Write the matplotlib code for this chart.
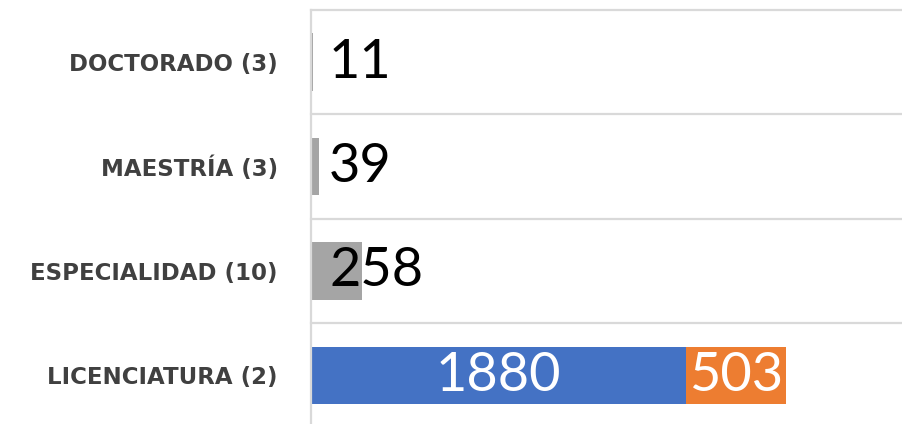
import matplotlib
matplotlib.use("Agg")
from matplotlib import pyplot as plt
import numpy as np

# Data
categories = ["LICENCIATURA (2)", "ESPECIALIDAD (10)", "MAESTRÍA (3)", "DOCTORADO (3)"]
first_vals = [1880, 258, 39, 11]
second_vals = [503, 0, 0, 0]
first_colors = ["#4472C4", "#A5A5A5", "#A5A5A5", "#A5A5A5"]

fig = plt.figure(figsize=(9.02, 4.24), dpi=100)
ax = fig.add_axes([311 / 902, -3.5 / 424, 1 - 311 / 902, 417.5 / 424])

y = np.arange(len(categories))
ax.barh(y, first_vals, height=0.55, color=first_colors, zorder=3)
ax.barh(y, second_vals, left=first_vals, height=0.55, color="#ED7D31", zorder=3)

ax.set_xlim(0, 2962)
ax.set_ylim(-0.5, 3.5)

# category separators
for b in np.arange(-0.5, len(categories) + 0.5):
    ax.axhline(b, color="#d9d9d9", lw=1.6, zorder=1, clip_on=False)

for s in ["top", "right", "bottom"]:
    ax.spines[s].set_visible(False)
ax.spines["left"].set_color("#d9d9d9")
ax.spines["left"].set_linewidth(1.6)
ax.spines["left"].set_zorder(4)

ax.set_xticks([])
ax.set_yticks(y)
ax.set_yticklabels(categories, fontsize=16.5, fontweight="bold", color="#404040",
                   family="DejaVu Sans")
ax.tick_params(axis="y", length=0, pad=24)

# value labels
for i in range(len(categories)):
    if second_vals[i] > 0:
        ax.text(first_vals[i] / 2, y[i], str(first_vals[i]), color="white",
                fontsize=39, family="Lato", ha="center", va="center", zorder=5)
        ax.text(first_vals[i] + second_vals[i] / 2, y[i], str(second_vals[i]),
                color="white", fontsize=39, family="Lato", ha="center",
                va="center", zorder=5)
    else:
        ax.annotate(str(first_vals[i]), (0, y[i]), xytext=(13, 0),
                    textcoords="offset points", color="black", fontsize=39,
                    family="Lato", ha="left", va="center", zorder=5)

fig.savefig("out.png", dpi=100)
